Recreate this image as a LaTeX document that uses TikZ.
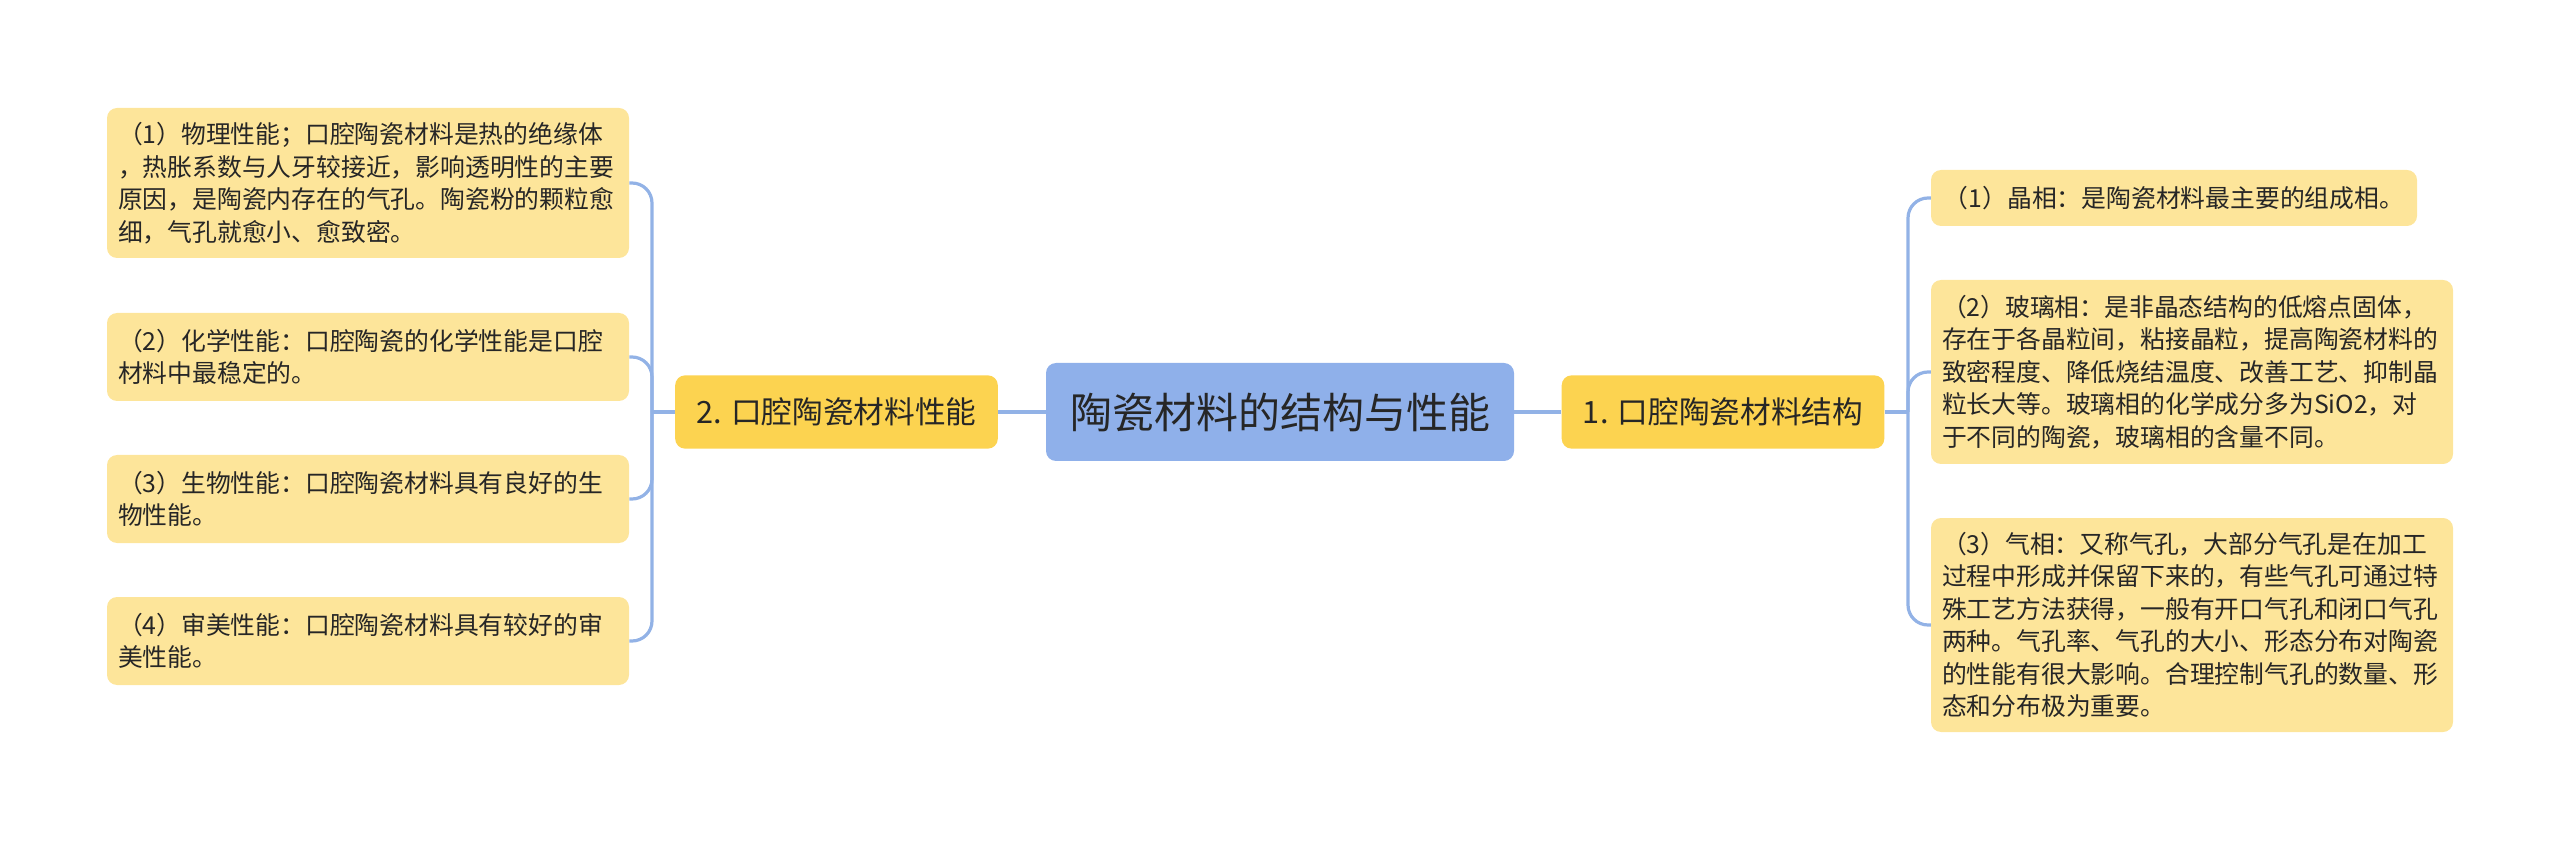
\documentclass[tikz,border=0pt]{standalone}
\usepackage{fontspec}
\setmainfont{Noto Sans CJK SC}
\definecolor{leaf}{HTML}{FDE59A}
\definecolor{mid}{HTML}{FCD350}
\definecolor{root}{HTML}{8FB0EA}
\definecolor{conn}{HTML}{92B2E6}
\definecolor{txt}{HTML}{262626}
\tikzset{
  leafbox/.style={fill=leaf, rounded corners=7.5pt, align=left, text=txt, inner sep=0pt,
    font=\fontsize{18.6pt}{24.4pt}\selectfont},
  widetext/.style={text width=375pt},
  midbox/.style={fill=mid, rounded corners=7.5pt, text=txt, inner sep=0pt,
    minimum width=242pt, minimum height=55pt, font=\fontsize{23pt}{28pt}\selectfont},
  rootbox/.style={fill=root, rounded corners=7.5pt, text=txt, inner sep=0pt,
    minimum width=351pt, minimum height=73.5pt, font=\fontsize{31.5pt}{38pt}\selectfont},
  link/.style={draw=conn, line width=2.4pt},
  branch/.style={draw=conn, line width=2.4pt, rounded corners=15pt}
}
\begin{document}
\begin{tikzpicture}[x=0.75pt, y=-0.75pt]
\useasboundingbox (0,0) rectangle (2560,841);

\node[rootbox] (C) at (1280,412) {陶瓷材料的结构与性能};
\node[midbox] (N2) at (836.5,412) {2. 口腔陶瓷材料性能};
\node[midbox] (N1) at (1723,412) {1. 口腔陶瓷材料结构};

\node[leafbox, widetext, minimum width=391.5pt, minimum height=112.5pt] (L1) at (368,183)
  {（1）物理性能；口腔陶瓷材料是热的绝缘体\\，热胀系数与人牙较接近，影响透明性的主要\\原因，是陶瓷内存在的气孔。陶瓷粉的颗粒愈\\细，气孔就愈小、愈致密。};
\node[leafbox, widetext, minimum width=391.5pt, minimum height=66pt] (L2) at (368,357)
  {（2）化学性能：口腔陶瓷的化学性能是口腔\\材料中最稳定的。};
\node[leafbox, widetext, minimum width=391.5pt, minimum height=66pt] (L3) at (368,499)
  {（3）生物性能：口腔陶瓷材料具有良好的生\\物性能。};
\node[leafbox, widetext, minimum width=391.5pt, minimum height=66pt] (L4) at (368,641)
  {（4）审美性能：口腔陶瓷材料具有较好的审\\美性能。};

\node[leafbox, minimum width=364.5pt, minimum height=42pt] (R1) at (2174,198)
  {（1）晶相：是陶瓷材料最主要的组成相。};
\node[leafbox, widetext, minimum width=391.5pt, minimum height=138pt] (R2) at (2192,372)
  {（2）玻璃相：是非晶态结构的低熔点固体，\\存在于各晶粒间，粘接晶粒，提高陶瓷材料的\\致密程度、降低烧结温度、改善工艺、抑制晶\\粒长大等。玻璃相的化学成分多为SiO2，对\\于不同的陶瓷，玻璃相的含量不同。};
\node[leafbox, widetext, minimum width=391.5pt, minimum height=160.5pt] (R3) at (2192,625)
  {（3）气相：又称气孔，大部分气孔是在加工\\过程中形成并保留下来的，有些气孔可通过特\\殊工艺方法获得，一般有开口气孔和闭口气孔\\两种。气孔率、气孔的大小、形态分布对陶瓷\\的性能有很大影响。合理控制气孔的数量、形\\态和分布极为重要。};

\coordinate (JL) at (652,412);
\coordinate (JR) at (1908,412);

\draw[link] (C.west) -- (N2.east);
\draw[link] (C.east) -- (N1.west);
\draw[link] (N2.west) -- (JL);
\draw[link] (N1.east) -- (JR);

\foreach \n in {L1,L2,L3,L4} \draw[branch] (JL) |- (\n.east);
\foreach \n in {R1,R2,R3} \draw[branch] (JR) |- (\n.west);
\end{tikzpicture}
\end{document}
